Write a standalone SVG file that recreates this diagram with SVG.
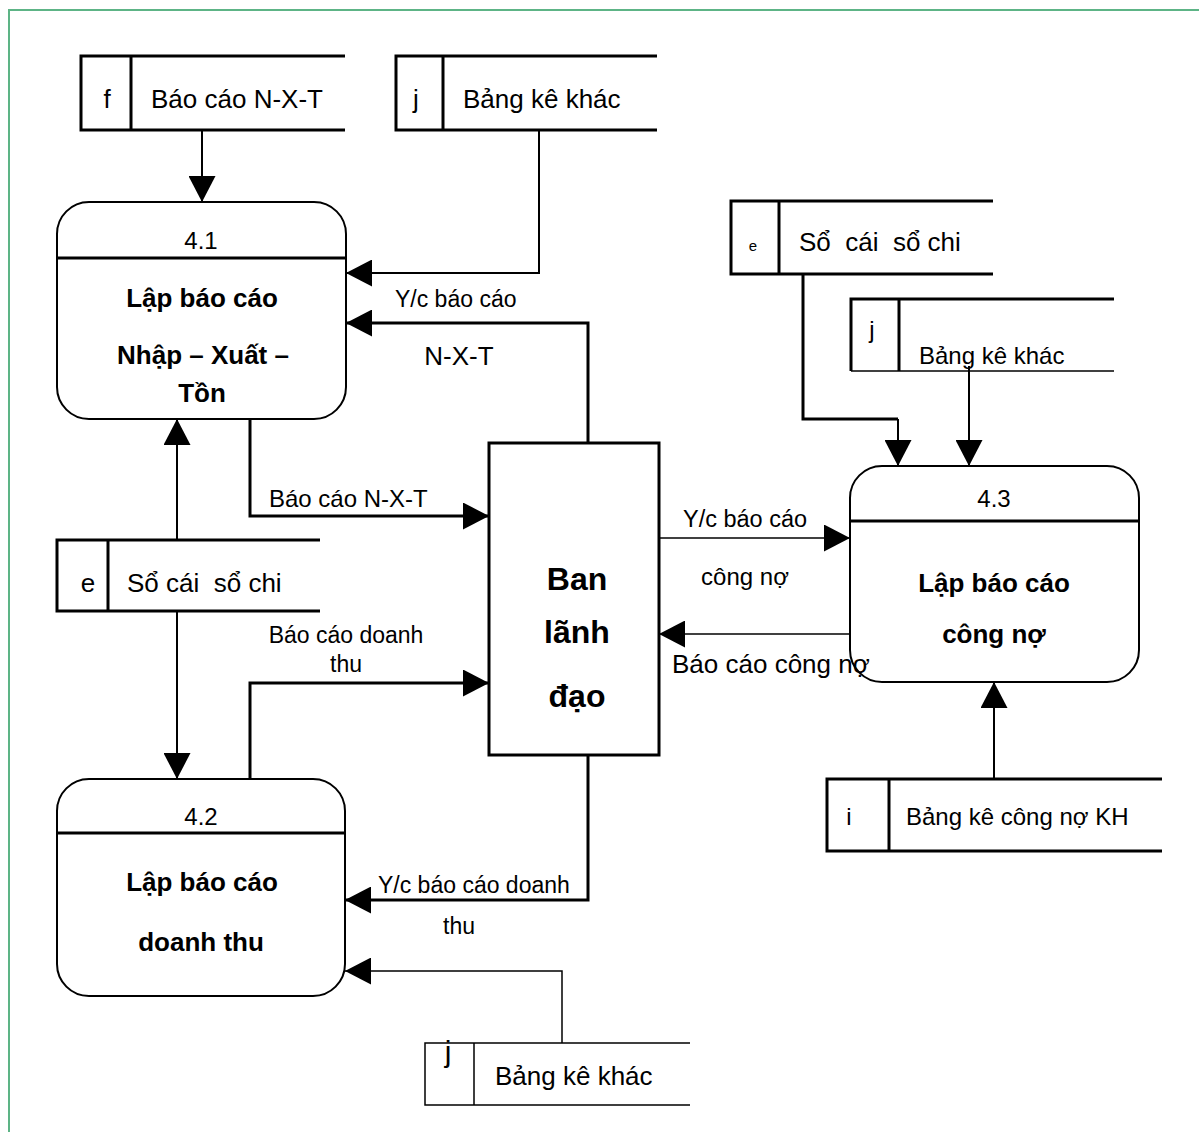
<svg xmlns="http://www.w3.org/2000/svg" width="1199" height="1132" viewBox="0 0 1199 1132">
<defs>
<marker id="ah" viewBox="0 0 26 27" refX="26" refY="13.5" markerWidth="26" markerHeight="27" markerUnits="userSpaceOnUse" orient="auto">
<path d="M0,0 L26,13.5 L0,27 z" fill="#000"/>
</marker>
<style>
text{font-family:"Liberation Sans",Arial,sans-serif;fill:#000}
.b{font-weight:bold}
.m{text-anchor:middle}
.st{fill:none;stroke:#000;stroke-width:3}
.stt{fill:none;stroke:#000;stroke-width:1.5}
.pr{fill:#fff;stroke:#000;stroke-width:2}
.dv{stroke:#000;stroke-width:3}
.c3{fill:none;stroke:#000;stroke-width:3;marker-end:url(#ah)}
.c2{fill:none;stroke:#000;stroke-width:2;marker-end:url(#ah)}
.c1{fill:none;stroke:#000;stroke-width:1.5;marker-end:url(#ah)}
</style>
</defs>
<rect x="9" y="10" width="1200" height="1130" fill="#fff" stroke="#5db486" stroke-width="2"/>

<g id="connectors">
<path class="c2" d="M202,130 V202"/>
<path class="c2" d="M539,130 V273 H346"/>
<path class="c3" d="M588,443 V323 H346"/>
<path class="c3" d="M250,419 V516 H489"/>
<path class="c2" d="M177,539 V419"/>
<path class="c2" d="M177,611 V779"/>
<path class="c3" d="M250,779 V683 H489"/>
<path class="c3" d="M588,755 V900 H345"/>
<path class="c1" d="M562,1043 V971 H345"/>
<path fill="none" stroke="#000" stroke-width="3" d="M803,274 V419 H898"/>
<path class="c2" d="M898,419 V466"/>
<path class="c2" d="M969,366 V466"/>
<path class="c1" d="M659,538 H850"/>
<path class="c1" d="M850,634 H659"/>
<path class="c2" d="M994,779 V682"/>
</g>

<g id="store-f">
<path class="st" d="M345,56 H81 V130 H345 M131,56 V130"/>
<text x="107" y="108" font-size="26" class="m">f</text>
<text x="151" y="108" font-size="26">Báo cáo N-X-T</text>
</g>

<g id="store-j-top">
<path class="st" d="M657,56 H396 V130 H657 M443,56 V130"/>
<text x="416" y="108" font-size="26" class="m">j</text>
<text x="463" y="108" font-size="26">Bảng kê khác</text>
</g>

<g id="p41">
<rect class="pr" x="57" y="202" width="289" height="217" rx="32"/>
<line class="dv" x1="57" y1="258" x2="346" y2="258"/>
<text x="201" y="249" font-size="24" class="m">4.1</text>
<text x="202" y="307" font-size="26" class="b m">Lập báo cáo</text>
<text x="203" y="364" font-size="26" class="b m">Nhập – Xuất –</text>
<text x="202" y="402" font-size="26" class="b m">Tồn</text>
</g>

<g id="store-e-left">
<path class="st" d="M320,540 H57 V611 H320 M108,540 V611"/>
<text x="88" y="592" font-size="26" class="m">e</text>
<text x="127" y="592" font-size="26" xml:space="preserve">Sổ cái  sổ chi</text>
</g>

<g id="p42">
<rect class="pr" x="57" y="779" width="288" height="217" rx="32"/>
<line class="dv" x1="57" y1="833" x2="345" y2="833"/>
<text x="201" y="825" font-size="24" class="m">4.2</text>
<text x="202" y="891" font-size="26" class="b m">Lập báo cáo</text>
<text x="201" y="951" font-size="26" class="b m">doanh thu</text>
</g>

<g id="ban">
<rect x="489" y="443" width="170" height="312" fill="#fff" stroke="#000" stroke-width="3"/>
<text x="577" y="590" font-size="32" class="b m">Ban</text>
<text x="577" y="643" font-size="32" class="b m">lãnh</text>
<text x="577" y="707" font-size="32" class="b m">đạo</text>
</g>

<g id="store-e-right">
<path class="st" d="M993,201 H731 V274 H993 M779,201 V274"/>
<text x="753" y="251" font-size="15" class="m">e</text>
<text x="799" y="251" font-size="26" xml:space="preserve">Sổ  cái  sổ chi</text>
</g>

<g id="store-j-right">
<path class="stt" d="M1114,371 H851"/>
<path class="st" d="M1114,299 H851 V371 M899,299 V371"/>
<text x="872" y="338" font-size="24" class="m">j</text>
<text x="919" y="364" font-size="24">Bảng kê khác</text>
</g>

<g id="p43">
<rect class="pr" x="850" y="466" width="289" height="216" rx="32"/>
<line class="dv" x1="850" y1="521" x2="1139" y2="521"/>
<text x="994" y="507" font-size="24" class="m">4.3</text>
<text x="994" y="592" font-size="26" class="b m">Lập báo cáo</text>
<text x="994" y="643" font-size="26" class="b m">công nợ</text>
</g>

<g id="store-i">
<path class="st" d="M1162,779 H827 V851 H1162 M889,779 V851"/>
<text x="849" y="825" font-size="24" class="m">i</text>
<text x="906" y="825" font-size="24">Bảng kê công nợ KH</text>
</g>

<g id="store-j-bottom">
<path class="stt" d="M690,1043 H425 V1105 H690 M474,1043 V1105"/>
<text x="448" y="1062" font-size="30" class="m">j</text>
<text x="495" y="1085" font-size="26">Bảng kê khác</text>
</g>

<g id="labels">
<text x="395" y="307" font-size="23">Y/c báo cáo</text>
<text x="459" y="365" font-size="26" class="m">N-X-T</text>
<text x="269" y="507" font-size="24">Báo cáo N-X-T</text>
<text x="346" y="643" font-size="23" class="m">Báo cáo doanh</text>
<text x="346" y="672" font-size="23" class="m">thu</text>
<text x="378" y="893" font-size="23">Y/c báo cáo doanh</text>
<text x="459" y="934" font-size="23" class="m">thu</text>
<text x="683" y="527" font-size="23.5">Y/c báo cáo</text>
<text x="745" y="585" font-size="24" class="m">công nợ</text>
<text x="672" y="673" font-size="26">Báo cáo công nợ</text>
</g>
</svg>
